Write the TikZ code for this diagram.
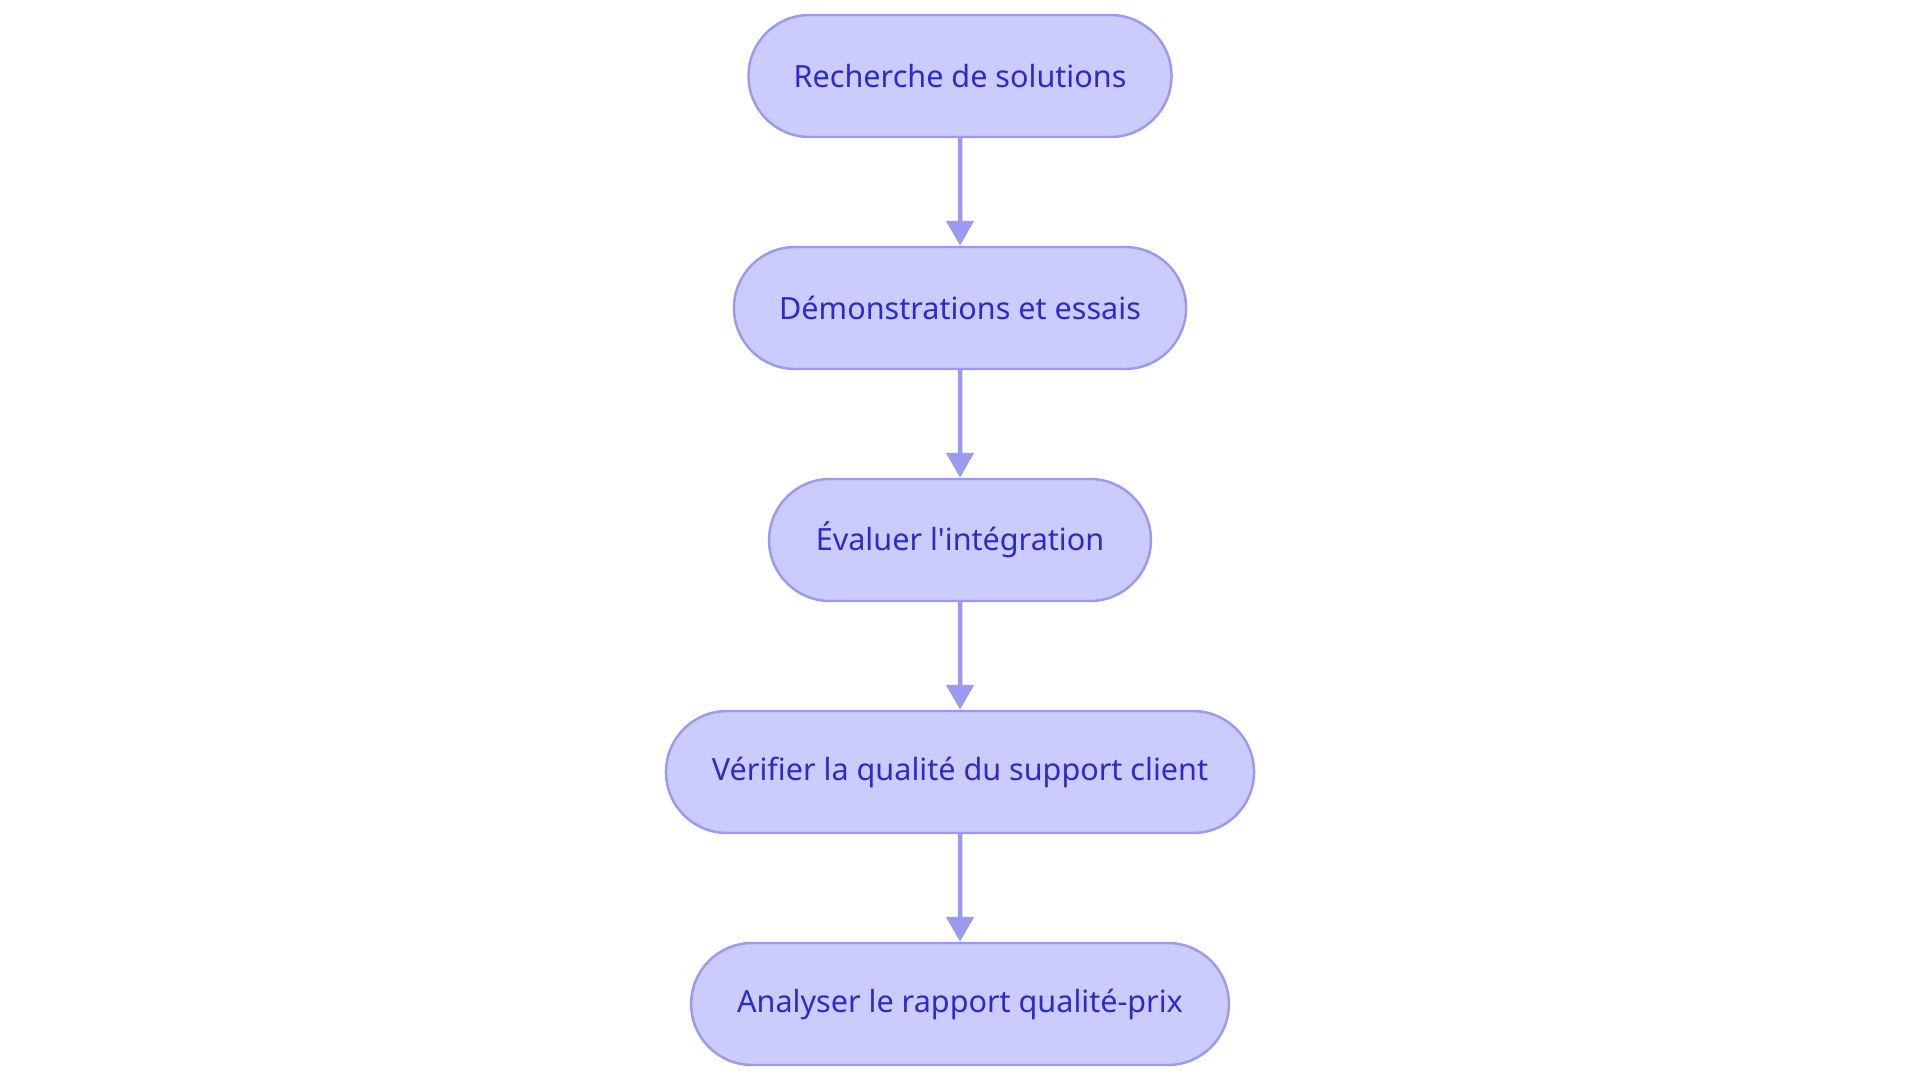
\documentclass[tikz,border=0pt]{standalone}
\usepackage{fontspec}
\setmainfont{Noto Sans}
\usetikzlibrary{arrows.meta,positioning,shapes.misc}
\definecolor{stepfill}{HTML}{CBCBFD}
\definecolor{stepline}{HTML}{9A9AEE}
\definecolor{steptext}{HTML}{2B2BCC}
\tikzset{
  stage/.style={rounded rectangle, draw=stepline, fill=stepfill, text=steptext,
    font=\fontsize{8.7}{11}\selectfont, minimum height=1.22cm, inner xsep=0.44cm, line width=0.7pt},
  flow/.style={-{Triangle[width=0.27cm,length=0.25cm]}, draw=stepline, line width=1.3pt}
}
\begin{document}
\begin{tikzpicture}
\useasboundingbox (0,0) rectangle (19.2,-10.83);
\node[stage] (s1) at (9.6,-0.76) {Recherche de solutions};
\node[stage] (s2) at (9.6,-3.08) {Démonstrations et essais};
\node[stage] (s3) at (9.6,-5.40) {Évaluer l\textquotesingle intégration};
\node[stage] (s4) at (9.6,-7.72) {Vérifier la qualité du support client};
\node[stage] (s5) at (9.6,-10.04) {Analyser le rapport qualité-prix};
\draw[flow] (s1) -- (s2);
\draw[flow] (s2) -- (s3);
\draw[flow] (s3) -- (s4);
\draw[flow] (s4) -- (s5);
\end{tikzpicture}
\end{document}
